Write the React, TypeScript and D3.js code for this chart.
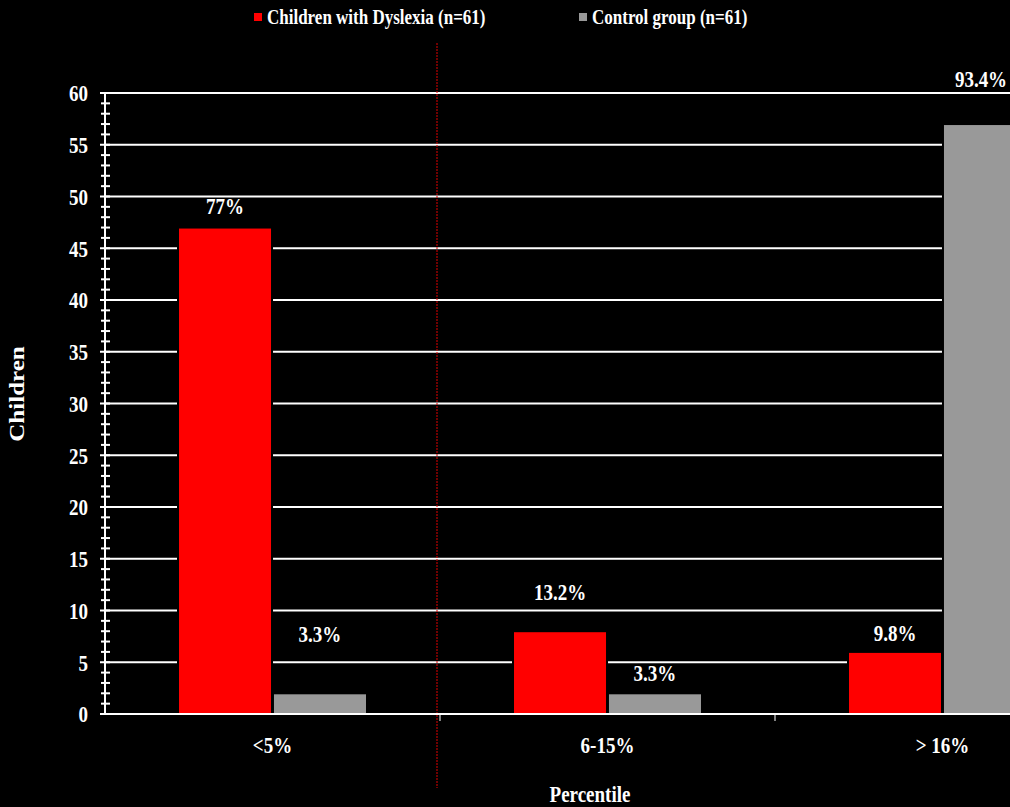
import * as d3 from 'd3';

// data
const categories = ['<5%', '6-15%', '> 16%'];
const seriesNames = ['Children with Dyslexia (n=61)', 'Control group (n=61)'];
const seriesColors = ['#ff0000', '#999999'];
const dyslexia = [47, 8, 6];
const control = [2, 2, 57];
const dyslexiaLabels = ['77%', '13.2%', '9.8%'];
const controlLabels = ['3.3%', '3.3%', '93.4%'];
// how far above the bar each label sits (chart units), as in the original
const dyslexiaLift = [2.1, 3.8, 1.9];
const controlLift = [5.8, 2.0, 4.4];
const yMajor = [0, 5, 10, 15, 20, 25, 30, 35, 40, 45, 50, 55, 60];

const W = 1010;
const H = 807;
const font = '"Liberation Serif", "Times New Roman", serif';
const STRETCH = 1.25; // the original's lettering is taller than it is wide

// text drawn around (x, y) centre line, stretched vertically
function Label({ x, y, size, anchor = 'middle', rotate = 0, children }:
  { x: number; y: number; size: number; anchor?: string; rotate?: number; children: any }) {
  const t = rotate
    ? `translate(${x},${y}) rotate(${rotate}) scale(${STRETCH},1)`
    : `translate(${x},${y}) scale(1,${STRETCH})`;
  return (
    <text transform={t} textAnchor={anchor} dy="0.35em" fontSize={size} fill="#fff">{children}</text>
  );
}

export default function App() {
  const left = 105;
  const catW = 335;
  const x = d3.scaleBand<string>().domain(categories).range([left, left + catW * categories.length]).padding(0);
  const sub = d3.scaleBand<number>().domain([0, 1]).range([73, 262]).paddingInner(0.01);
  const y = d3.scaleLinear().domain([0, 60]).range([714, 93]);
  const minor = d3.range(0, 61, 1).filter(v => v % 5 !== 0);
  const series = [dyslexia, control];
  const labels = [dyslexiaLabels, controlLabels];
  const lifts = [dyslexiaLift, controlLift];

  return (
    <svg width={W} height={H} style={{ position: 'absolute', left: 0, top: 0, background: '#000' }}
      fontFamily={font} fontWeight="bold">
      <rect x={0} y={0} width={W} height={H} fill="#000" />

      {/* legend */}
      <rect x={254} y={13} width={8} height={8} fill={seriesColors[0]} />
      <Label x={267} y={17} size={17} anchor="start">{seriesNames[0]}</Label>
      <rect x={579} y={13} width={8} height={8} fill={seriesColors[1]} />
      <Label x={592} y={17} size={17} anchor="start">{seriesNames[1]}</Label>

      {/* gridlines */}
      {yMajor.filter(v => v > 0).map(v => (
        <line key={v} x1={left} x2={W} y1={y(v)} y2={y(v)} stroke="#fff" strokeWidth={2} />
      ))}

      {/* dotted separator */}
      <line x1={437} x2={437} y1={43} y2={788} stroke="#e00000" strokeWidth={1} strokeDasharray="2,1" />

      {/* bars */}
      {series.map((vals, si) => vals.map((v, ci) => {
        const bx = (x(categories[ci]) as number) + (sub(si) as number);
        return (
          <rect key={`${si}-${ci}`} x={bx} y={y(v)} width={sub.bandwidth()} height={y(0) - y(v)}
            fill={seriesColors[si]} stroke="#000" strokeWidth={2} />
        );
      }))}

      {/* value labels */}
      {series.map((vals, si) => vals.map((v, ci) => {
        const cx = (x(categories[ci]) as number) + (sub(si) as number) + sub.bandwidth() / 2;
        return (
          <Label key={`l${si}-${ci}`} x={Math.min(cx, W - 29)} y={y(v + lifts[si][ci])} size={19}>
            {labels[si][ci]}
          </Label>
        );
      }))}

      {/* y axis */}
      <line x1={left} x2={left} y1={y(60)} y2={y(0)} stroke="#fff" strokeWidth={2} />
      {minor.map(v => (
        <line key={`m${v}`} x1={101} x2={110} y1={y(v)} y2={y(v)} stroke="#fff" strokeWidth={2} />
      ))}
      {yMajor.map(v => (
        <g key={`t${v}`}>
          <line x1={100} x2={110} y1={y(v)} y2={y(v)} stroke="#fff" strokeWidth={2} />
          <Label x={88} y={y(v)} size={19} anchor="end">{v}</Label>
        </g>
      ))}

      {/* x axis */}
      <line x1={left} x2={W} y1={y(0)} y2={y(0)} stroke="#fff" strokeWidth={2} />
      {categories.slice(1).map(c => (
        <line key={`xt${c}`} x1={x(c)} x2={x(c)} y1={y(0)} y2={y(0) + 7} stroke="#fff" strokeWidth={1} />
      ))}
      {categories.map(c => (
        <Label key={`xl${c}`} x={(x(c) as number) + x.bandwidth() / 2} y={745} size={19}>{c}</Label>
      ))}

      {/* axis titles */}
      <Label x={17} y={394} size={20} rotate={-90}>Children</Label>
      <Label x={590} y={794} size={19}>Percentile</Label>
    </svg>
  );
}
